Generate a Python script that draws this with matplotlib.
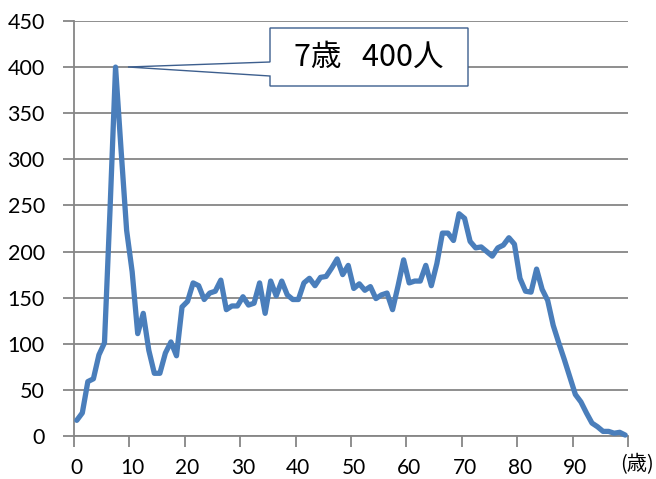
import matplotlib
matplotlib.use("Agg")
import matplotlib.pyplot as plt
from matplotlib.patches import Polygon
import numpy as np

ages = list(range(0, 100))
counts = [17, 25, 59, 62, 88, 101, 245, 400, 310, 223,
          178, 111, 133, 93, 68, 68, 90, 102, 87, 140,
          146, 166, 163, 148, 155, 157, 169, 137, 141, 141,
          151, 142, 144, 166, 133, 168, 152, 168, 153, 148,
          148, 166, 171, 163, 172, 173, 182, 192, 175, 185,
          160, 165, 158, 162, 149, 153, 155, 137, 163, 191,
          166, 168, 168, 185, 163, 187, 220, 220, 212, 241,
          236, 211, 204, 205, 200, 195, 204, 207, 215, 208,
          171, 157, 156, 181, 159, 147, 120, 101, 83, 64,
          45, 37, 25, 14, 10, 5, 5, 3, 4, 1]
x_labels = [0, 10, 20, 30, 40, 50, 60, 70, 80, 90]
y_ticks = [0, 50, 100, 150, 200, 250, 300, 350, 400, 450]
peak_label = "7歳   400人"
unit_label = "(歳)"

W, H = 656, 479
fig = plt.figure(figsize=(W / 100, H / 100), dpi=100)
ax = fig.add_axes([74 / W, 1 - 436 / H, (628 - 74) / W, (436 - 21) / H])

grid_c = "#868686"
line_c = "#4A7EBB"

ax.plot(ages, counts, color=line_c, lw=3.8, solid_joinstyle="round",
        solid_capstyle="round", zorder=3, clip_on=False)

ax.set_xlim(-0.5, 99.5)
ax.set_ylim(0, 450)

# category-style axis: tick marks at boundaries, labels at category centres
ax.set_xticks(np.arange(-0.5, 100, 10))
ax.set_xticklabels([])
ax.set_xticks(x_labels, minor=True)
ax.set_xticklabels([str(v) for v in x_labels], minor=True)
ax.tick_params(axis="x", which="major", length=8, width=1.3, color=grid_c,
               direction="out")
ax.tick_params(axis="x", which="minor", length=0, pad=16,
               labelsize=15, labelcolor="black")

ax.set_yticks(y_ticks)
ax.set_yticklabels([str(v) for v in y_ticks])
ax.tick_params(axis="y", length=8, width=1.3, color=grid_c, direction="out",
               pad=13, labelsize=15.5)

for lab in ax.get_xticklabels(minor=True) + ax.get_yticklabels():
    lab.set_fontfamily("Lato")

ax.yaxis.grid(True, color=grid_c, lw=1.3)
ax.set_axisbelow(True)
for s in ["top", "right"]:
    ax.spines[s].set_visible(False)
for s in ["left", "bottom"]:
    ax.spines[s].set_color(grid_c)
    ax.spines[s].set_linewidth(1.3)

# unit label
fig.text(637 / W, 1 - 465 / H, unit_label, ha="center", va="center",
         fontsize=14.5, family=["Noto Sans CJK JP", "DejaVu Sans"])

# callout box
pts_px = [(270, 28), (468, 28), (468, 86), (270, 86), (270, 76),
          (128, 67), (270, 62)]
pts = [(px / W, 1 - py / H) for px, py in pts_px]
fig.patches.append(Polygon(pts, closed=True, transform=fig.transFigure,
                           facecolor="white", edgecolor="#3D5F8E", lw=1.0,
                           zorder=5))
fig.text(369 / W, 1 - 57 / H, peak_label, ha="center", va="center",
         fontsize=22, family=["Noto Sans CJK JP", "DejaVu Sans"], zorder=6)

fig.savefig("out.png", dpi=100)
